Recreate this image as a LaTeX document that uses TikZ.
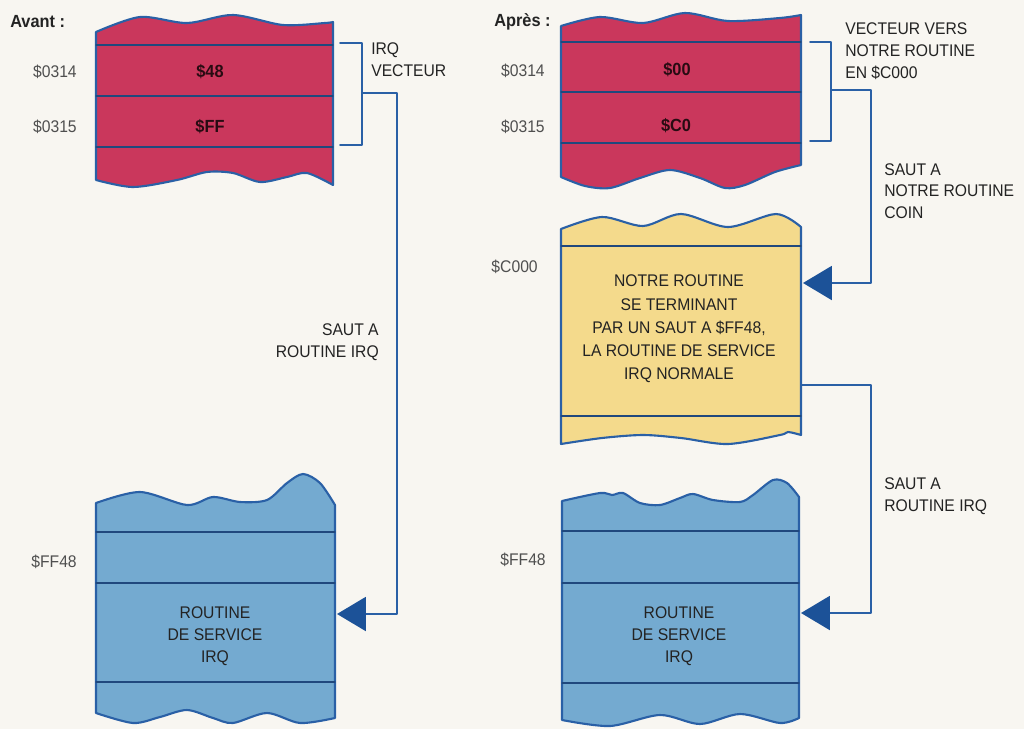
\documentclass[tikz,border=0pt]{standalone}
\usepackage{fontspec}
\setmainfont{Liberation Sans}[FakeStretch=0.93]
\usetikzlibrary{arrows.meta}
\definecolor{paper}{RGB}{248,246,241}
\definecolor{memred}{RGB}{202,55,92}
\definecolor{memyel}{RGB}{244,218,140}
\definecolor{memblue}{RGB}{116,170,208}
\definecolor{edge}{RGB}{42,96,166}
\definecolor{tipblue}{RGB}{28,82,152}
\definecolor{ink}{RGB}{35,35,35}
\tikzset{
  blk/.style={draw=edge, line width=1.5pt, line join=round},
  divline/.style={draw=edge!75!black, line width=0.9pt},
  conn/.style={draw=edge, line width=1.1pt},
  jump/.style={conn, -{Triangle[length=0.72cm,width=0.85cm,color=tipblue]}},
  lbl/.style={inner sep=0pt, text=ink, font=\fontsize{12}{15.5}\selectfont},
  addr/.style={lbl, anchor=east, text=ink!80},
  val/.style={lbl, font=\fontsize{12.5}{15}\selectfont\bfseries, text=black!80!memred},
  head/.style={lbl, anchor=west, font=\fontsize{12.5}{15}\selectfont\bfseries},
}
\begin{document}
\begin{tikzpicture}[x=0.025cm,y=-0.025cm,line cap=round,line join=round]
\fill[paper] (0,0) rectangle (1024,729);
\useasboundingbox (0,0) rectangle (1024,729);

\filldraw[blk,fill=memred] plot[smooth] coordinates {(96,32) (140,17) (187,23) (233,15) (283,25) (325,23) (333,22)}
  -- plot[smooth] coordinates {(333,185) (307,173) (287,177) (260,182) (233,173) (207,172) (177,180) (133,187) (96,180)} -- cycle;
\foreach \y in {45,96,147} \draw[divline] (96,\y) -- (333,\y);

\filldraw[blk,fill=memred] plot[smooth] coordinates {(561,26) (600,17) (643,23) (685,13) (728,21) (780,18) (801,15)}
  -- plot[smooth] coordinates {(801,165) (775,172) (745,185) (725,188) (700,178) (670,170) (640,178) (610,188) (585,186) (561,177)} -- cycle;
\foreach \y in {42,92,143} \draw[divline] (561,\y) -- (801,\y);

\filldraw[blk,fill=memyel] plot[smooth] coordinates {(561,229) (602,217) (643,226) (681,214) (728,227) (776,214) (801,227)}
  -- plot[smooth] coordinates {(801,435) (788,432) (780,435) (728,444) (681,438) (643,435) (602,438) (561,444)} -- cycle;
\foreach \y in {246,416} \draw[divline] (561,\y) -- (801,\y);

\filldraw[blk,fill=memblue] plot[smooth] coordinates {(96,503) (140,492) (187,505) (213,497) (240,502) (267,500) (287,483) (303,474) (320,483) (335,505)}
  -- plot[smooth] coordinates {(335,718) (300,723) (267,713) (233,723) (213,718) (187,710) (160,717) (133,723) (96,713)} -- cycle;
\foreach \y in {532,583,682} \draw[divline] (96,\y) -- (335,\y);

\filldraw[blk,fill=memblue] plot[smooth] coordinates {(562,501) (600,493) (612,495) (623,493) (640,503) (660,505) (680,498) (693,494) (713,500) (740,502) (753,495) (773,480) (787,483) (799,497)}
  -- plot[smooth] coordinates {(799,718) (780,723) (740,714) (700,724) (660,715) (610,726) (562,720)} -- cycle;
\foreach \y in {531,583,683} \draw[divline] (562,\y) -- (799,\y);

\coordinate (brA1) at (340,43);
\coordinate (brA2) at (340,145);
\coordinate (brAm) at (362,93);
\coordinate (bendA) at (397,614);
\coordinate (irqA) at (337,614);
\coordinate (brB1) at (810,42);
\coordinate (brB2) at (810,141);
\coordinate (brBm) at (831,90);
\coordinate (bendB) at (871,283);
\coordinate (coin) at (803,283);
\coordinate (exC) at (801,385);
\coordinate (bendC) at (871,613);
\coordinate (irqB) at (801,613);

\draw[conn] (brA1) -- ++(22,0) |- (brA2);
\draw[jump] (brAm) -| (bendA) -- (irqA);
\draw[conn] (brB1) -- ++(21,0) |- (brB2);
\draw[jump] (brBm) -| (bendB) -- (coin);
\draw[jump] (exC) -| (bendC) -- (irqB);

\node[head] (avant) at (10,22) {Avant :};
\node[head] (apres) at (494,22) {Après :};
\node[addr] (a314) at (77,72) {\$0314};
\node[addr] (a315) at (77,127) {\$0315};
\node[addr] (b314) at (545,71) {\$0314};
\node[addr] (b315) at (545,127) {\$0315};
\node[addr] (bc000) at (538,267) {\$C000};
\node[addr] (aff48) at (77,562) {\$FF48};
\node[addr] (bff48) at (546,560) {\$FF48};
\node[val] (v48) at (210,72) {\$48};
\node[val] (vff) at (210,127) {\$FF};
\node[val] (v00) at (677,70) {\$00};
\node[val] (vc0) at (676,126) {\$C0};
\node[lbl,anchor=west,align=left] (irqvec) at (371,60) {IRQ\\VECTEUR};
\node[lbl,anchor=east,align=right] (sautA) at (379,342) {SAUT A\\ROUTINE IRQ};
\node[lbl,anchor=west,align=left] (vecvers) at (845,51) {VECTEUR VERS\\NOTRE ROUTINE\\EN \$C000};
\node[lbl,anchor=west,align=left] (sautcoin) at (884,191) {SAUT A\\NOTRE ROUTINE\\COIN};
\node[lbl,anchor=west,align=left] (sautB) at (884,496) {SAUT A\\ROUTINE IRQ};
\node[lbl,align=center,font=\fontsize{12}{16.5}\selectfont] (notre) at (679,329) {NOTRE ROUTINE\\SE TERMINANT\\PAR UN SAUT A \$FF48,\\LA ROUTINE DE SERVICE\\IRQ NORMALE};
\node[lbl,align=center] (servA) at (215,636) {ROUTINE\\DE SERVICE\\IRQ};
\node[lbl,align=center] (servB) at (679,636) {ROUTINE\\DE SERVICE\\IRQ};
\end{tikzpicture}
\end{document}
